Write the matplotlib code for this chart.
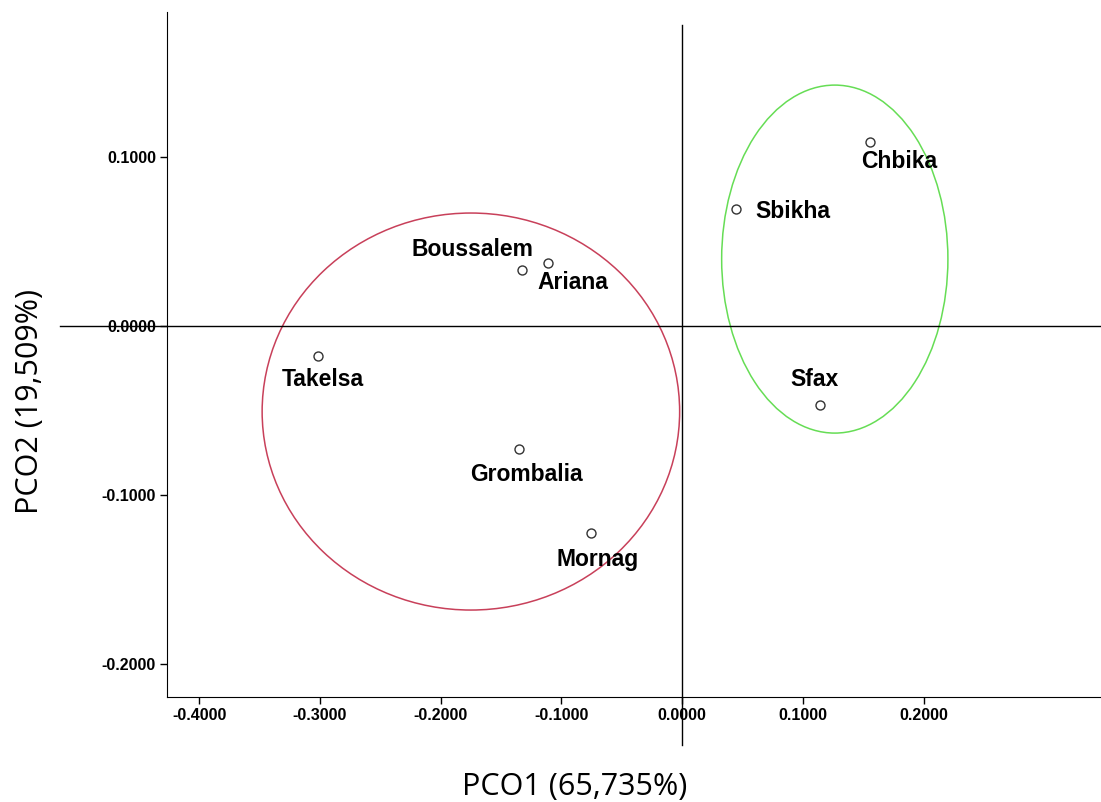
import matplotlib.pyplot as plt
from matplotlib.patches import Ellipse

# PCO scores
sites = ['Chbika', 'Sbikha', 'Ariana', 'Boussalem', 'Takelsa', 'Grombalia', 'Mornag', 'Sfax']
pco1 = [0.1554, 0.0443, -0.1114, -0.1326, -0.3020, -0.1348, -0.0754, 0.1140]
pco2 = [0.1087, 0.0694, 0.0373, 0.0331, -0.0176, -0.0730, -0.1227, -0.0467]

# group ellipses: centre x, centre y, width, height
group_x = [-0.175, 0.1264]
group_y = [-0.0506, 0.0396]
group_w = [0.3458, 0.1874]
group_h = [0.2349, 0.2059]
group_colors = ['#c8405a', '#66dd55']

xticks = [-0.4, -0.3, -0.2, -0.1, 0.0, 0.1, 0.2]
yticks = [-0.2, -0.1, 0.0, 0.1]

# label offsets in points (dx, dy) relative to each marker
label_offsets = {
    'Chbika': (21, -14), 'Sbikha': (41, -2), 'Ariana': (18, -14),
    'Boussalem': (-36, 15), 'Takelsa': (4, -17), 'Grombalia': (5, -18),
    'Mornag': (5, -19), 'Sfax': (-4, 18),
}

fig = plt.figure(figsize=(11.01, 8.02), dpi=100)
ax = fig.add_axes([167 / 1101, 1 - 697 / 802, 934 / 1101, 685 / 802])

ax.set_xlim(-0.4267, 0.3469)
ax.set_ylim(-0.2195, 0.1858)

for cx, cy, w, h, c in zip(group_x, group_y, group_w, group_h, group_colors):
    ax.add_patch(Ellipse((cx, cy), w, h, fill=False, edgecolor=c, lw=1.1))

# reference lines through the origin, running past the frame like SPSS does
ax.axhline(0, xmin=-0.1146, xmax=1, color='black', lw=1, clip_on=False)
ax.axvline(0, ymin=-0.07, ymax=0.981, color='black', lw=1, clip_on=False)

ax.scatter(pco1, pco2, s=42, facecolors='white', edgecolors='#333333', linewidths=1, zorder=3)

for name, x, y in zip(sites, pco1, pco2):
    dx, dy = label_offsets[name]
    ax.annotate(name, (x, y), xytext=(dx, dy), textcoords='offset points',
                ha='center', va='center', fontsize=16.5, fontweight='bold',
                family='Liberation Sans')

ax.set_xticks(xticks)
ax.set_yticks(yticks)
ax.set_xticklabels([f'{t:.4f}' for t in xticks])
ax.set_yticklabels([f'{t:.4f}' for t in yticks])
for lab in ax.get_xticklabels() + ax.get_yticklabels():
    lab.set_fontweight('bold')
    lab.set_family('Liberation Sans')
    lab.set_fontsize(11.5)
ax.tick_params(direction='out', length=5, width=1, pad=3)

ax.spines['top'].set_visible(False)
ax.spines['right'].set_visible(False)

fig.text(575 / 1101, 1 - 787 / 802, 'PCO1 (65,735%)', ha='center', va='center',
         fontsize=22, family='Open Sans')
fig.text(30 / 1101, 1 - 402 / 802, 'PCO2 (19,509%)', ha='center', va='center',
         rotation=90, fontsize=22, family='Open Sans')

fig.savefig('out.png', dpi=100)
